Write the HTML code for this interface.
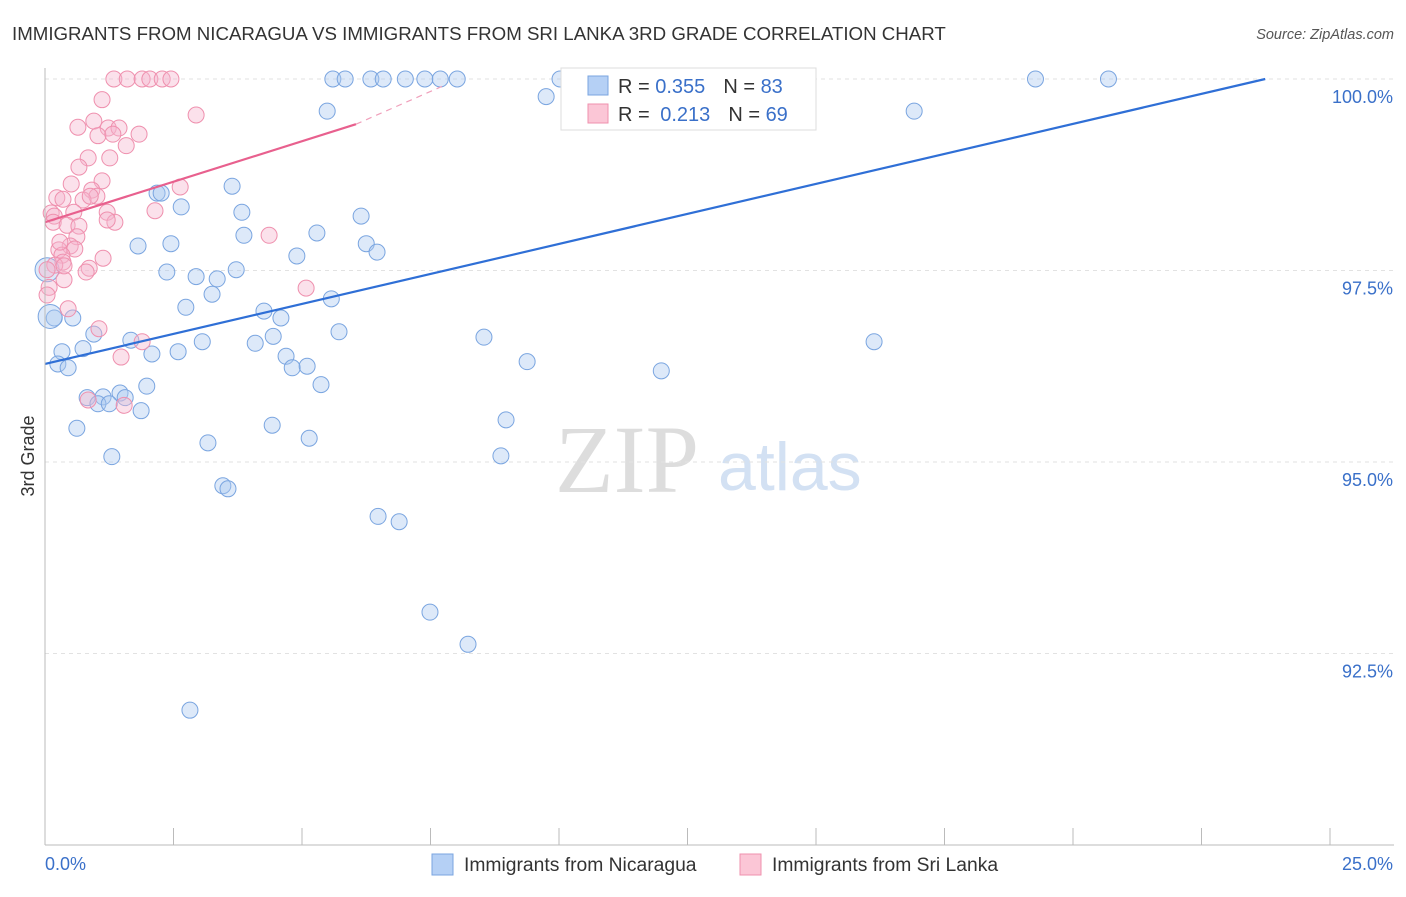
<!DOCTYPE html>
<html><head><meta charset="utf-8"><style>
body{margin:0;background:#fff;font-family:"Liberation Sans",sans-serif}
svg text{font-family:"Liberation Sans",sans-serif}
</style></head><body>
<svg id="c" width="1406" height="892">
<text x="12" y="40" font-size="18.7" fill="#333">IMMIGRANTS FROM NICARAGUA VS IMMIGRANTS FROM SRI LANKA 3RD GRADE CORRELATION CHART</text>
<text x="1394" y="39" font-size="14.5" fill="#555" font-style="italic" text-anchor="end">Source: ZipAtlas.com</text>
<text transform="translate(34,456) rotate(-90)" font-size="18" fill="#333" text-anchor="middle">3rd Grade</text>
<text x="555" y="492" font-size="96" fill="#ddd" style="font-family:'Liberation Serif',serif">ZIP</text>
<text x="718" y="490" font-size="68" fill="#d3e1f3">atlas</text>
<g id="grid"></g><g id="pts"></g><g id="lines"></g>
<line x1="45" y1="68" x2="45" y2="845" stroke="#bbb"/>
<line x1="45" y1="845" x2="1394" y2="845" stroke="#bbb"/>
<text x="45" y="870" font-size="18" fill="#3a70c9">0.0%</text>
<text x="1393" y="870" font-size="18" fill="#3a70c9" text-anchor="end">25.0%</text>
<g>
<rect x="561" y="68" width="255" height="62" fill="#fff" stroke="#ddd"/>
<rect x="588" y="76" width="20" height="19" fill="#b5d0f5" stroke="#7aa5e0"/>
<rect x="588" y="104" width="20" height="19" fill="#fbc6d6" stroke="#ef90ae"/>
<text x="618" y="93" font-size="20" fill="#333">R = <tspan fill="#3a70c9">0.355</tspan><tspan dx="18">N = </tspan><tspan fill="#3a70c9">83</tspan></text>
<text x="618" y="121" font-size="20" fill="#333">R = <tspan dx="5" fill="#3a70c9">0.213</tspan><tspan dx="18">N = </tspan><tspan fill="#3a70c9">69</tspan></text>
</g>
<g>
<rect x="432" y="854" width="21" height="21" fill="#b5d0f5" stroke="#7aa5e0"/>
<text x="464" y="871" font-size="19.3" fill="#333">Immigrants from Nicaragua</text>
<rect x="740" y="854" width="21" height="21" fill="#fbc6d6" stroke="#ef90ae"/>
<text x="772" y="871" font-size="19.3" fill="#333">Immigrants from Sri Lanka</text>
</g>
</svg>
<script>
const yTicks=[100,97.5,95,92.5];
const yTickLabels=["100.0%","97.5%","95.0%","92.5%"];
const xTicks=[0,2.5,5,7.5,10,12.5,15,17.5,20,22.5,25];
const blueX=[5.60,5.84,6.34,6.58,7.01,7.39,7.69,8.02,10.02,10.74,19.27,20.69,5.49,9.75,16.91,2.18,2.26,3.64,2.65,3.83,6.15,3.87,5.29,1.81,2.45,6.25,6.46,4.90,2.37,2.94,3.35,3.72,3.25,2.74,5.57,4.26,4.59,0.18,0.54,0.95,4.44,5.72,8.54,1.67,3.06,4.09,16.13,0.74,0.33,2.59,2.08,4.69,0.25,0.45,4.81,5.10,9.38,11.99,5.37,1.98,1.46,0.82,1.13,1.56,1.03,1.25,1.87,8.97,0.62,4.42,5.14,3.17,1.30,8.87,3.46,3.56,6.48,6.89,7.49,8.23,2.82,0.04,0.10];
const blueY=[100,100,100,100,100,100,100,100,100,99.95,100,100,99.58,99.77,99.58,98.51,98.51,98.60,98.33,98.26,98.21,97.96,97.99,97.82,97.85,97.85,97.74,97.69,97.48,97.42,97.39,97.51,97.19,97.02,97.13,96.97,96.88,96.88,96.88,96.67,96.64,96.70,96.63,96.59,96.57,96.55,96.57,96.48,96.44,96.44,96.41,96.38,96.28,96.23,96.23,96.25,96.31,96.19,96.01,95.99,95.90,95.84,95.85,95.84,95.76,95.76,95.67,95.55,95.44,95.48,95.31,95.25,95.07,95.08,94.69,94.65,94.29,94.22,93.04,92.62,91.76,97.51,96.90];
const blueR=[8,8,8,8,8,8,8,8,8,8,8,8,8,8,8,8,8,8,8,8,8,8,8,8,8,8,8,8,8,8,8,8,8,8,8,8,8,8,8,8,8,8,8,8,8,8,8,8,8,8,8,8,8,8,8,8,8,8,8,8,8,8,8,8,8,8,8,8,8,8,8,8,8,8,8,8,8,8,8,8,8,12,12];
const pinkX=[1.34,1.60,1.89,2.04,2.28,2.45,1.11,2.94,0.64,0.95,1.23,1.44,1.03,1.32,1.83,1.58,1.26,0.84,0.66,1.11,0.91,2.63,0.51,1.01,0.23,0.35,0.74,1.21,2.14,0.12,0.18,0.56,1.36,0.16,0.43,0.66,1.21,4.36,0.62,0.49,0.27,0.58,0.33,0.35,1.13,0.86,0.19,0.04,0.08,5.08,0.37,0.80,0.04,1.05,1.89,1.48,0.84,1.54,0.45,0.37,0.88,0.29];
const pinkY=[100,100,100,100,100,100,99.73,99.53,99.37,99.45,99.36,99.36,99.26,99.28,99.28,99.13,98.97,98.97,98.85,98.67,98.55,98.59,98.63,98.47,98.45,98.43,98.42,98.26,98.28,98.25,98.21,98.26,98.13,98.13,98.09,98.08,98.16,97.96,97.94,97.82,97.77,97.78,97.70,97.61,97.66,97.53,97.57,97.51,97.28,97.27,97.38,97.48,97.18,96.74,96.57,96.37,95.81,95.74,97.00,97.56,98.47,97.87];
const blueTrendX=[0,23.74];
const blueTrendY=[96.28,100];
const pinkTrendX=[0,6.05];
const pinkTrendY=[98.13,99.41];
const pinkDashX=[6.05,7.78];
const pinkDashY=[99.41,99.92];
const X=v=>45+v/25*1285;
const Y=v=>79+(100-v)/2.5*191.5;
const NS="http://www.w3.org/2000/svg";
function mk(tag,attrs,parent){const e=document.createElementNS(NS,tag);for(const k in attrs)e.setAttribute(k,attrs[k]);document.getElementById(parent).appendChild(e);return e;}
yTicks.forEach((t,i)=>{
 const l=mk('line',{x1:45,x2:1394,y1:Y(t),y2:Y(t),stroke:'#e2e2e2','stroke-dasharray':'4,4'},'grid');
 
 
 const tx=mk('text',{x:1393,y:Y(t)+24,'font-size':18,fill:'#3a70c9','text-anchor':'end'},'grid');
 tx.textContent=yTickLabels[i];
 
 
});
xTicks.forEach(t=>{
 const l=mk('line',{x1:X(t),x2:X(t),y1:828,y2:845,stroke:'#bbb'},'grid');
 
 
});
blueX.forEach((v,i)=>{
 const c=mk('circle',{cx:X(v),cy:Y(blueY[i]),r:blueR[i],fill:'rgba(170,200,240,0.4)',stroke:'#7aa5e0','stroke-width':1},'pts');
 
 
});
pinkX.forEach((v,i)=>{
 const c=mk('circle',{cx:X(v),cy:Y(pinkY[i]),r:8,fill:'rgba(246,180,204,0.4)',stroke:'#ef90ae','stroke-width':1},'pts');
 
 
});
const bl=mk('line',{x1:X(blueTrendX[0]),y1:Y(blueTrendY[0]),x2:X(blueTrendX[1]),y2:Y(blueTrendY[1]),stroke:'#2f6fd6','stroke-width':2.2},'lines');


const pl=mk('line',{x1:X(pinkTrendX[0]),y1:Y(pinkTrendY[0]),x2:X(pinkTrendX[1]),y2:Y(pinkTrendY[1]),stroke:'#e8608e','stroke-width':2.2},'lines');


const pd=mk('line',{x1:X(pinkDashX[0]),y1:Y(pinkDashY[0]),x2:X(pinkDashX[1]),y2:Y(pinkDashY[1]),stroke:'#f0a0bb','stroke-width':1.2,'stroke-dasharray':'6,5'},'lines');


</script>
</body></html>
